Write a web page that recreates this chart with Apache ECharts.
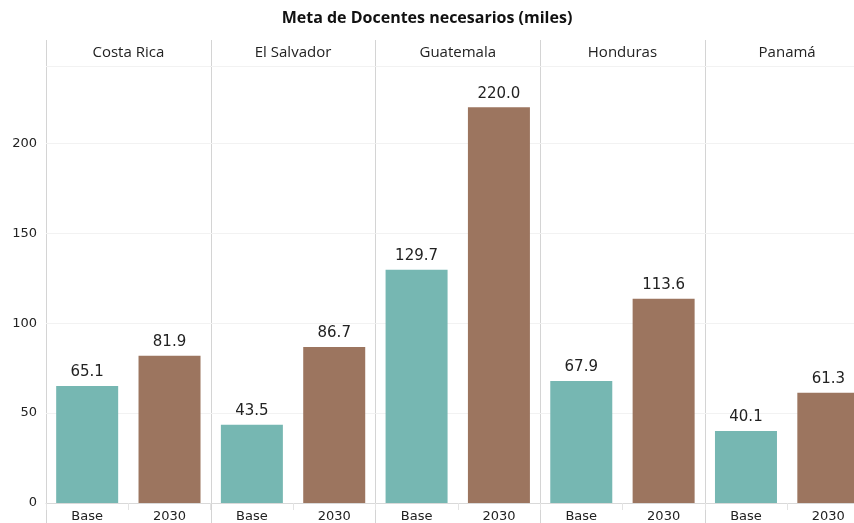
<!DOCTYPE html>
<html lang="es">
<head>
  <meta charset="UTF-8">
  <title>Meta de Docentes necesarios</title>
  <script src="https://cdn.jsdelivr.net/npm/echarts@6/dist/echarts.min.js"></script>
</head>
<body style="margin:0">
  <div id="main" style="width:854px;height:523px;"></div>
<script>
  // datos (miles de docentes)
  let countries = ["Costa Rica", "El Salvador", "Guatemala", "Honduras", "Panamá"];
  let categories = ["Base", "2030"];
  let baseValues = [65.1, 43.5, 129.7, 67.9, 40.1];
  let values2030 = [81.9, 86.7, 220.0, 113.6, 61.3];
  let yTicks = [0, 50, 100, 150, 200];

  let colors = ["#76b7b2", "#9c755f"];
  let left0 = 46, panelW = 164.7, plotTop = 66, baseY = 503;

  let chart = echarts.init(document.getElementById("main"));

  let grids = [], xAxes = [], yAxes = [], series = [], graphics = [];

  countries.forEach((c, i) => {
    let left = left0 + i * panelW;
    grids.push({
      left: left, top: plotTop, width: panelW, height: baseY - plotTop,
      outerBoundsMode: "none", containLabel: false
    });
    xAxes.push({
      type: "category", gridIndex: i, data: categories,
      axisLine: { show: true, lineStyle: { color: "#d9d9d9" } },
      axisTick: { show: true, length: 7, lineStyle: { color: "#e3e3e3" } },
      axisLabel: { color: "#222", fontSize: 13, fontFamily: "DejaVu Sans", margin: 7 }
    });
    yAxes.push({
      type: "value", gridIndex: i, min: 0, max: 243, interval: 50,
      axisLine: { show: false }, axisTick: { show: false },
      axisLabel: {
        show: i === 0, color: "#222", fontSize: 13, fontFamily: "DejaVu Sans", margin: 9,
        formatter: v => yTicks.indexOf(v) >= 0 ? String(v) : ""
      },
      splitLine: { show: true, lineStyle: { color: "#f2f2f2" } }
    });
    series.push({
      type: "bar", xAxisIndex: i, yAxisIndex: i, barWidth: 62,
      data: [
        { value: baseValues[i], itemStyle: { color: colors[0] } },
        { value: values2030[i], itemStyle: { color: colors[1] } }
      ],
      label: {
        show: true, position: "top", distance: 6, color: "#222", fontSize: 15,
        fontFamily: "DejaVu Sans", formatter: p => p.value.toFixed(1)
      }
    });
    // encabezado del panel
    graphics.push({
      type: "text", silent: true, x: left + panelW / 2, y: 53,
      style: {
        text: c, align: "center", verticalAlign: "middle",
        font: "15px 'Open Sans'", fill: "#222"
      }
    });
    // separador vertical del panel
    graphics.push({
      type: "line", silent: true,
      shape: { x1: Math.round(left) + 0.5, y1: 40, x2: Math.round(left) + 0.5, y2: 523 },
      style: { stroke: "#d4d4d4", lineWidth: 1 }
    });
  });

  // linea bajo los encabezados
  graphics.push({
    type: "line", silent: true,
    shape: { x1: left0, y1: 66.5, x2: 854, y2: 66.5 },
    style: { stroke: "#d4d4d4", lineWidth: 1 }
  });

  chart.setOption({
    animation: false,
    title: {
      text: "Meta de Docentes necesarios (miles)",
      left: "center", top: 5,
      textStyle: { fontSize: 16, fontWeight: "bold", color: "#111", fontFamily: "Open Sans" }
    },
    grid: grids,
    xAxis: xAxes,
    yAxis: yAxes,
    series: series,
    graphic: graphics
  });
</script>
</body>
</html>
